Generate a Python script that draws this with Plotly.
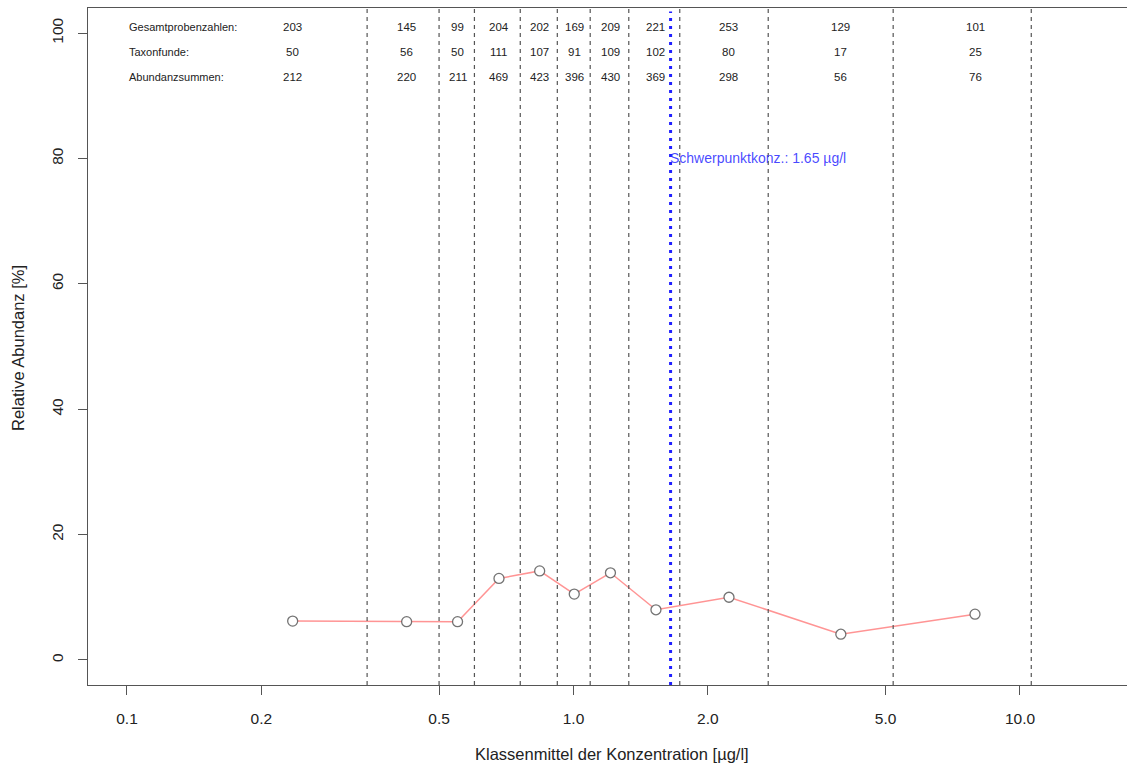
import math
import plotly.graph_objects as go

# ---- data ----
class_mid = [0.235, 0.423, 0.55, 0.681, 0.84, 1.004, 1.21, 1.53, 2.23, 3.97, 7.93]
rel_abundance = [6.2, 6.1, 6.1, 13.0, 14.2, 10.5, 13.9, 8.0, 10.0, 4.1, 7.3]
class_bounds = [0.345, 0.5, 0.6, 0.76, 0.92, 1.09, 1.33, 1.73, 2.73, 5.2, 10.6]
probenzahlen = [203, 145, 99, 204, 202, 169, 209, 221, 253, 129, 101]
taxonfunde = [50, 56, 50, 111, 107, 91, 109, 102, 80, 17, 25]
abundanzsummen = [212, 220, 211, 469, 423, 396, 430, 369, 298, 56, 76]
row_labels = ["Gesamtprobenzahlen:", "Taxonfunde:", "Abundanzsummen:"]
schwerpunkt = 1.65
x_ticks = [0.1, 0.2, 0.5, 1.0, 2.0, 5.0, 10.0]
x_ticktext = ["0.1", "0.2", "0.5", "1.0", "2.0", "5.0", "10.0"]
y_ticks = [0, 20, 40, 60, 80, 100]

FONT = "Liberation Sans, Arial, sans-serif"
W, H = 1127, 769
ML, MR, MT, MB = 88, 0, 8, 84

fig = go.Figure()

fig.add_trace(go.Scatter(
    x=class_mid, y=rel_abundance, mode="lines+markers",
    line=dict(color="rgba(255,60,60,0.55)", width=1.5),
    marker=dict(symbol="circle", size=10, color="white",
                line=dict(color="rgba(90,90,90,0.85)", width=1.3)),
    showlegend=False, hoverinfo="skip"))

shapes = []
for b in class_bounds:
    shapes.append(dict(type="line", xref="x", yref="paper", x0=b, x1=b, y0=0, y1=1,
                       line=dict(color="#555555", width=1.2, dash="4px,4px")))
shapes.append(dict(type="line", xref="x", yref="paper", x0=schwerpunkt, x1=schwerpunkt,
                   y0=0, y1=0.995, line=dict(color="#2020ff", width=3, dash="3px,5px")))

annotations = []
row_y = [101, 97, 93]
rows = [probenzahlen, taxonfunde, abundanzsummen]
for ry, lab, vals in zip(row_y, row_labels, rows):
    annotations.append(dict(x=math.log10(0.1), y=ry, xref="x", yref="y", text=lab,
                            showarrow=False, xanchor="left", yanchor="middle",
                            font=dict(family=FONT, size=11, color="#222222")))
    for xm, v in zip(class_mid, vals):
        annotations.append(dict(x=math.log10(xm), y=ry, xref="x", yref="y", text=str(v),
                                showarrow=False, xanchor="center", yanchor="middle",
                                font=dict(family=FONT, size=11.5, color="#222222")))

annotations.append(dict(x=math.log10(schwerpunkt), y=80, xref="x", yref="y",
                        text="Schwerpunktkonz.: %.2f µg/l" % schwerpunkt,
                        showarrow=False, xanchor="left", yanchor="middle", xshift=-3,
                        font=dict(family=FONT, size=14, color="rgba(40,40,255,0.85)")))

plot_w = W - ML - MR
plot_h = H - MT - MB
annotations.append(dict(x=(612 - 88) / plot_w, y=-(754 - 685) / plot_h, xref="paper", yref="paper",
                        text="Klassenmittel der Konzentration [µg/l]", showarrow=False,
                        xanchor="center", yanchor="middle",
                        font=dict(family=FONT, size=16.5, color="#222222")))
annotations.append(dict(x=-(88 - 18) / plot_w, y=(685 - 348) / plot_h, xref="paper", yref="paper",
                        text="Relative Abundanz [%]", showarrow=False, textangle=-90,
                        xanchor="center", yanchor="middle",
                        font=dict(family=FONT, size=16.5, color="#222222")))

fig.update_layout(
    width=W, height=H, margin=dict(l=ML, r=MR, t=MT, b=MB),
    paper_bgcolor="white", plot_bgcolor="white",
    shapes=shapes, annotations=annotations, showlegend=False,
    xaxis=dict(type="log", range=[-1.0873, 1.2397], tickvals=x_ticks, ticktext=x_ticktext,
               showgrid=False, zeroline=False, showline=True, linecolor="#555555", linewidth=1.2,
               mirror=True, ticks="outside", ticklen=9, tickwidth=1.2, tickcolor="#555555",
               ticklabelstandoff=10,
               tickfont=dict(family=FONT, size=15.5, color="#222222")),
    yaxis=dict(range=[-4, 104], tickvals=y_ticks, showgrid=False, zeroline=False,
               showline=True, linecolor="#555555", linewidth=1.2,
               ticks="outside", ticklen=9, tickwidth=1.2, tickcolor="#555555",
               tickangle=-90, ticklabelstandoff=9,
               tickfont=dict(family=FONT, size=15.5, color="#222222")),
)

fig.write_html("out.html", config={"displayModeBar": False},
               post_script="document.body.style.margin='0px';document.body.style.overflow='hidden';")
